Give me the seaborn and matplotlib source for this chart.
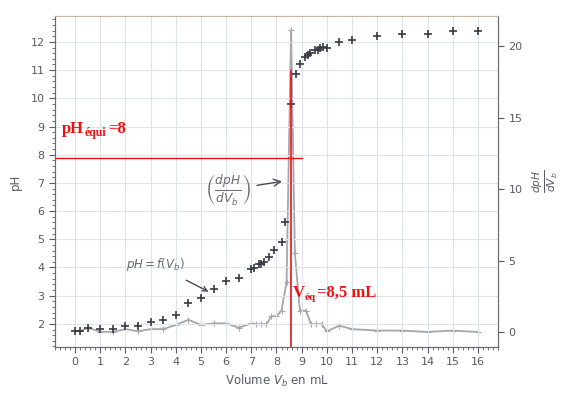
import numpy as np
import pandas as pd
import matplotlib
matplotlib.use("Agg")
import matplotlib.pyplot as plt
from matplotlib.ticker import MultipleLocator
import seaborn as sns

# titrage pH-métrique : pH = f(Vb) et dérivée dpH/dVb
v_ph = [0, 0.2, 0.5, 1, 1.5, 2, 2.5, 3, 3.5, 4, 4.5, 5, 5.5, 6, 6.5, 7, 7.1,
        7.3, 7.4, 7.5, 7.7, 7.9, 8.2, 8.35, 8.57, 8.77, 8.95, 9.15, 9.25,
        9.35, 9.52, 9.63, 9.72, 9.83, 10.0, 10.5, 11, 12, 13, 14, 15, 16]
ph = [1.75, 1.75, 1.87, 1.82, 1.83, 1.93, 1.92, 2.05, 2.13, 2.32, 2.73, 2.92,
      3.24, 3.52, 3.63, 3.95, 3.97, 4.12, 4.13, 4.18, 4.38, 4.62, 4.92, 5.6,
      9.8, 10.87, 11.22, 11.48, 11.55, 11.6, 11.7, 11.72, 11.77, 11.82, 11.8,
      11.99, 12.08, 12.2, 12.27, 12.27, 12.4, 12.4]

v_deriv = [0, 0.2, 0.5, 1, 1.5, 2, 2.5, 3, 3.5, 4, 4.5, 5, 5.5, 6, 6.5, 7,
           7.2, 7.4, 7.6, 7.8, 8.0, 8.2, 8.4, 8.58, 8.73, 8.93, 9.17, 9.37,
           9.55, 9.79, 10.0, 10.5, 11, 12, 13, 14, 15, 16]
deriv = [0.07, 0.07, 0.3, 0.02, 0.0, 0.2, 0.05, 0.2, 0.2, 0.5, 0.85, 0.5,
         0.6, 0.6, 0.3, 0.6, 0.55, 0.55, 0.55, 1.1, 1.1, 1.5, 3.5, 21.1, 5.5,
         1.5, 1.5, 0.55, 0.55, 0.55, 0.05, 0.45, 0.2, 0.1, 0.1, 0.0, 0.1, 0.0]

x_ticks = list(range(0, 17))
y_ticks = list(range(2, 13))
y2_ticks = [0, 5, 10, 15, 20]

df_ph = pd.DataFrame({"V": v_ph, "pH": ph})
df_d = pd.DataFrame({"V": v_deriv, "d": deriv})

sns.set_theme(style="ticks")
plt.rcParams["font.family"] = ["DejaVu Sans"]

txt_col = "#5a5a66"
grid_col = "#dfe3ea"

fig = plt.figure(figsize=(5.63, 3.95), dpi=100)
ax = fig.add_axes([0.0977, 0.1215, 0.7868, 0.838])
ax2 = ax.twinx()

sns.lineplot(data=df_d, x="V", y="d", ax=ax2, color="#a6a6ad", lw=1.3,
             marker="+", markersize=5, markeredgewidth=0.8,
             markeredgecolor="#a6a6ad", zorder=2)
sns.scatterplot(data=df_ph, x="V", y="pH", ax=ax, marker="+", s=28,
                color="#3a3a44", linewidth=1.2, zorder=3)

ax.set_zorder(ax2.get_zorder() + 1)
ax.patch.set_visible(False)

ax.set_xlim(-0.8, 16.8)
ax.set_ylim(1.18, 12.92)
ax2.set_ylim(-1.05, 22.1)

ax.set_xticks(x_ticks)
ax.set_yticks(y_ticks)
ax2.set_yticks(y2_ticks)
ax.xaxis.set_minor_locator(MultipleLocator(0.2))
ax.yaxis.set_minor_locator(MultipleLocator(0.2))
ax.grid(True, which="major", color=grid_col, lw=0.8)
ax.set_axisbelow(True)

for a in (ax, ax2):
    a.tick_params(axis="both", which="major", labelsize=8, colors=txt_col,
                  labelcolor=txt_col, length=4, width=0.8)
    a.tick_params(axis="both", which="minor", length=2.5, width=0.6,
                  colors=txt_col)
    for s in a.spines.values():
        s.set_color("#6a6a74")
        s.set_linewidth(0.8)
ax.spines["top"].set_color("#c9b8a0")
ax2.spines["top"].set_color("#c9b8a0")

ax.set_xlabel("Volume $V_b$ en mL", fontsize=8.5, color=txt_col)
ax.set_ylabel("pH", fontsize=8.5, color=txt_col, labelpad=6)
ax2.set_ylabel(r"$\frac{dpH}{dV_b}$", fontsize=11, color=txt_col,
               rotation=90, labelpad=6)

# annotations des courbes
ax.annotate(r"$\left(\frac{dpH}{dV_b}\right)$", xy=(8.33, 7.07),
            xytext=(6.07, 6.75), ha="center", va="center", fontsize=12.5,
            color="#6a6a74",
            arrowprops=dict(arrowstyle="->", color="#4a4a54", lw=1.0,
                            shrinkA=2))
ax.annotate(r"$pH = f(V_b)$", xy=(5.4, 3.1), xytext=(3.2, 4.1),
            ha="center", va="center", fontsize=8.5, color="#6a6a74",
            arrowprops=dict(arrowstyle="->", color="#4a4a54", lw=1.0,
                            shrinkA=6))

# construction de l'équivalence
red = "#ee1111"
ax.plot([-0.8, 9.0], [7.88, 7.88], color=red, lw=1.0, zorder=4)
ax.plot([8.57, 8.57], [1.18, 11.0], color=red, lw=1.2, zorder=4)

serif = ["Liberation Serif", "DejaVu Serif"]
ax.annotate("pH", xy=(-0.52, 8.77), fontsize=12, color=red, weight="bold",
            family=serif, va="baseline")
ax.annotate("équi", xy=(-0.52, 8.77), xytext=(16, -2),
            textcoords="offset points", fontsize=8.5, color=red,
            weight="bold", family=serif, va="baseline")
ax.annotate("=8", xy=(-0.52, 8.77), xytext=(33.5, 0),
            textcoords="offset points", fontsize=12, color=red,
            weight="bold", family=serif, va="baseline")

ax.annotate("V", xy=(8.65, 2.96), fontsize=12, color=red, weight="bold",
            family=serif, va="baseline")
ax.annotate("éq", xy=(8.65, 2.96), xytext=(8.5, -2.5),
            textcoords="offset points", fontsize=8, color=red,
            weight="bold", family=serif, va="baseline")
ax.annotate("=8,5 mL", xy=(8.65, 2.96), xytext=(17.5, 0),
            textcoords="offset points", fontsize=12, color=red,
            weight="bold", family=serif, va="baseline")

fig.savefig("out.png", dpi=100)
